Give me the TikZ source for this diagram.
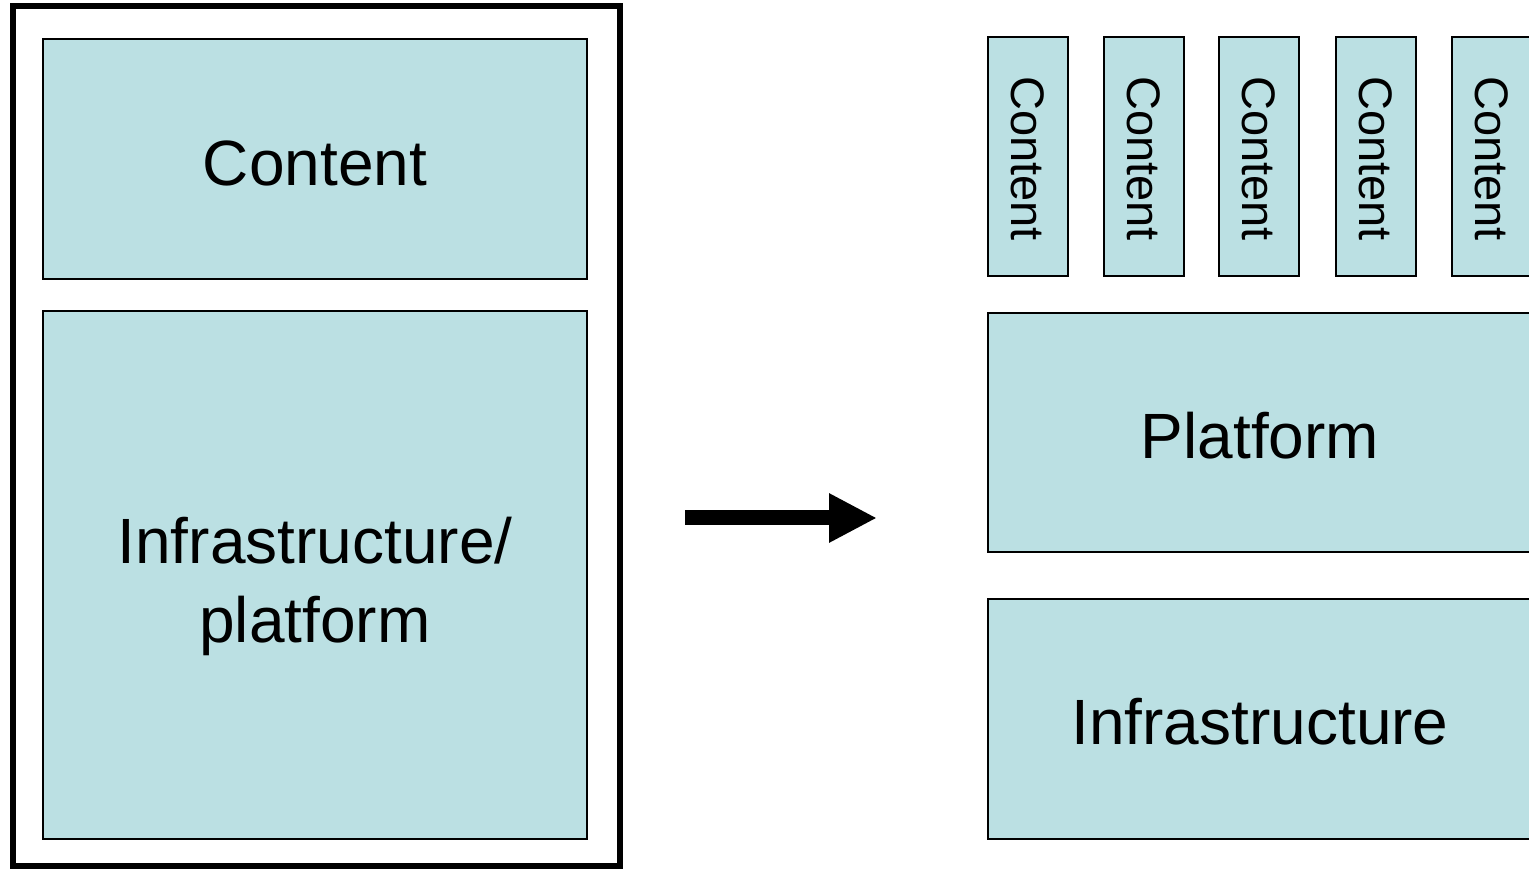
\documentclass[tikz,border=0pt]{standalone}
\usepackage{fontspec}
\setmainfont{Liberation Sans}
\usetikzlibrary{arrows.meta}
\definecolor{boxfill}{RGB}{187,224,227}
\begin{document}
\begin{tikzpicture}[x=0.5pt,y=-0.5pt,
  box/.style={draw=black, line width=1pt, fill=boxfill, inner sep=0pt, outer sep=0pt},
  btext/.style={inner sep=0pt, align=center, font=\fontsize{32pt}{39.5pt}\selectfont},
  vtext/.style={rotate=-90, inner sep=0pt, font=\fontsize{23.5pt}{28pt}\selectfont},
  frame/.style={draw=black, line width=3pt, inner sep=0pt, outer sep=0pt}]
\clip (0,0) rectangle (1529,870);
% left side
\node[frame, minimum width=303.5pt, minimum height=429.75pt] (frame) at (316.5,436.25) {};
\node[box, minimum width=272pt, minimum height=120pt] (content) at (315,159) {};
\node[btext] (contentt) at ([yshift=-2pt]content.center) {Content};
\node[box, minimum width=272pt, minimum height=264pt] (infplat) at (315,575) {};
\node[btext] (infplatt) at ([yshift=-5.5pt]infplat.center) {Infrastructure/\\platform};
% arrow
\coordinate (a1) at (685,518);
\coordinate (a2) at (877,518);
\draw[line width=7.5pt, -{Triangle[length=24pt,width=23pt]}] (a1) -- (a2);
% right side
\foreach \x/\n in {1028/c1,1144/c2,1259/c3,1376/c4,1492/c5}{
  \node[box, minimum width=40pt, minimum height=119.5pt] (\n) at (\x,156.5) {};
  \node[vtext] (\n t) at ([yshift=-1pt]\n.center) {Content};
}
\node[box, minimum width=272pt, minimum height=119.5pt] (platform) at (1260,432.5) {};
\node[btext] (platformt) at ([yshift=-1.5pt]platform.center) {Platform};
\node[box, minimum width=272pt, minimum height=120pt] (infra) at (1260,719) {};
\node[btext] (infrat) at ([yshift=-1.5pt]infra.center) {Infrastructure};
\end{tikzpicture}
\end{document}
